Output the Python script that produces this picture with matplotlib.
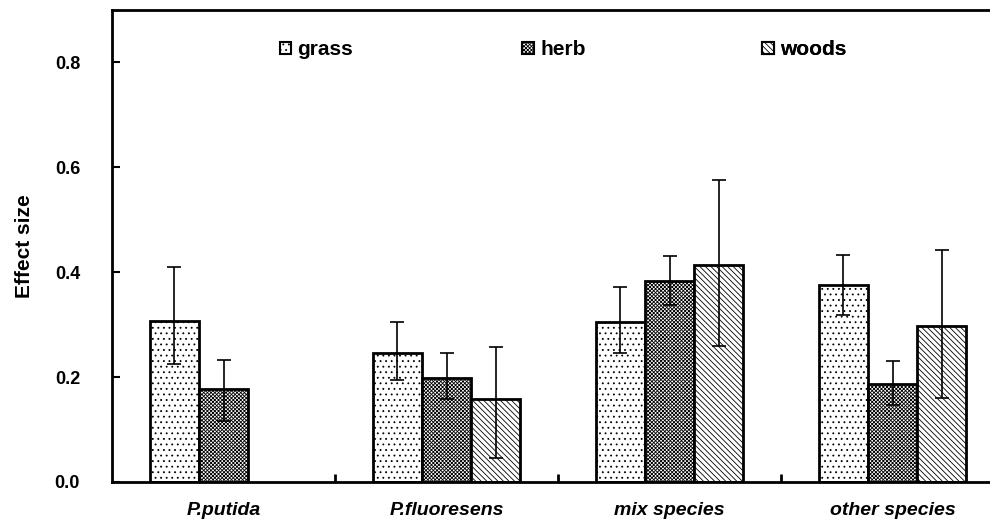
import numpy as np
import matplotlib
matplotlib.use("Agg")
from matplotlib import pyplot as plt
from matplotlib.patches import Patch

plt.rcParams['font.family'] = ['Liberation Sans', 'DejaVu Sans']
plt.rcParams['hatch.linewidth'] = 0.6

groups = ['P.putida', 'P.fluoresens', 'mix species', 'other species']
series = ['grass', 'herb', 'woods']

grass = [0.307, 0.246, 0.305, 0.375]
grass_hi = [0.410, 0.305, 0.371, 0.433]
grass_lo = [0.225, 0.194, 0.246, 0.318]

herb = [0.177, 0.198, 0.383, 0.187]
herb_hi = [0.232, 0.246, 0.430, 0.230]
herb_lo = [0.116, 0.158, 0.337, 0.147]

woods = [np.nan, 0.158, 0.413, 0.297]
woods_hi = [np.nan, 0.257, 0.575, 0.442]
woods_lo = [np.nan, 0.046, 0.259, 0.160]

hatches = ['...', 'x' * 9, '\\' * 6]

fig = plt.figure(figsize=(9.9, 5.22), dpi=100)
ax = fig.add_axes([112 / 990, 40 / 522, 892 / 990, 472 / 522])

x = np.arange(len(groups))
w = 0.22
vals = [grass, herb, woods]
his = [grass_hi, herb_hi, woods_hi]
los = [grass_lo, herb_lo, woods_lo]
for i in range(3):
    v = np.array(vals[i])
    xs = x + (i - 1) * w
    ax.bar(xs, v, width=w, color='white', edgecolor='black', linewidth=2,
           hatch=hatches[i], zorder=2)
    yerr = [v - np.array(los[i]), np.array(his[i]) - v]
    ax.errorbar(xs, v, yerr=yerr, fmt='none', ecolor='black', elinewidth=1.2,
                capsize=5, capthick=1.2, zorder=3)

ax.set_xlim(-0.5, len(groups) - 0.5)
ax.set_ylim(0, 0.9)
ax.set_yticks(np.arange(0, 0.81, 0.2))
ax.set_yticklabels(['%.1f' % t for t in np.arange(0, 0.81, 0.2)],
                   fontsize=13, fontweight='bold')
ax.set_ylabel('Effect size', fontsize=15, fontweight='bold')
ax.yaxis.set_label_coords(-0.088, 0.5)

# group names under the axis, ticks only between groups
ax.set_xticks(x + 0.5)
ax.set_xticklabels([])
ax.tick_params(axis='x', direction='in', length=6, width=2)
ax.tick_params(axis='y', direction='in', length=6, width=1.5, pad=23)
for k, g in enumerate(groups):
    ax.text(x[k], -0.055, g, ha='center', va='center', fontsize=14,
            fontweight='bold', style='italic', transform=ax.transData)

for s in ax.spines.values():
    s.set_linewidth(2)

# one legend entry per box, spread across the top
leg_x = [0.188, 0.460, 0.729]
for i in range(3):
    h = Patch(facecolor='white', edgecolor='black', linewidth=1.5, hatch=hatches[i])
    leg = ax.legend([h], [series[i]], loc='center left',
                    bbox_to_anchor=(leg_x[i], 0.916), frameon=False,
                    borderpad=0, borderaxespad=0,
                    handlelength=0.55, handleheight=0.55, handletextpad=0.3,
                    prop={'weight': 'bold', 'size': 15})
    ax.add_artist(leg)

fig.savefig('out.png', dpi=100)
